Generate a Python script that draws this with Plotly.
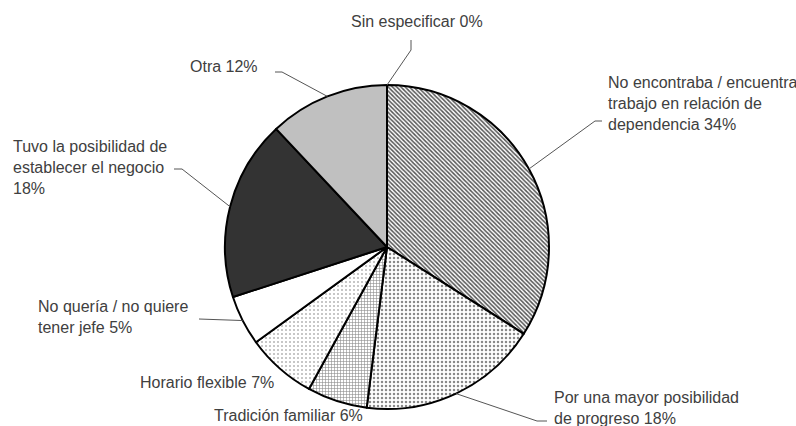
import math
import plotly.graph_objects as go

# Motivos para iniciar el negocio (porcentaje de respuestas)
labels = [
    "No encontraba / encuentra<br>trabajo en relación de<br>dependencia",
    "Por una mayor posibilidad<br>de progreso",
    "Tradición familiar",
    "Horario flexible",
    "No quería / no quiere<br>tener jefe",
    "Tuvo la posibilidad de<br>establecer el negocio<br>",
    "Otra",
    "Sin especificar",
]
values = [34, 18, 6, 7, 5, 18, 12, 0]

# Fill style per slice
fill_colors = ["#ffffff", "#ffffff", "#ffffff", "#ffffff", "#ffffff", "#333333", "#c0c0c0", "#ffffff"]
pattern_shapes = ["\\", ".", "+", ".", "", "", "", ""]
pattern_fg = ["#555555", "#8a8a8a", "#8a8a8a", "#b5b5b5", "#000000", "#000000", "#000000", "#000000"]
pattern_bg = ["#ffffff", "#ffffff", "#ffffff", "#ffffff", "#ffffff", "#333333", "#c0c0c0", "#ffffff"]
pattern_size = [3, 4, 3, 4, 4, 4, 4, 4]
pattern_solidity = [0.5, 0.3, 0.35, 0.2, 0.3, 0.3, 0.3, 0.3]

W, H = 796, 426
CX, CY, R = 387, 247, 162  # pie centre and radius in pixels

# Label placement: (text anchor x, y, xanchor, yanchor, leader-line waypoints after the rim point)
label_layout = [
    (606, 103, "left", "middle", [(595, 121), (602, 121)]),
    (552, 408, "left", "middle", [(537, 421), (547, 421)]),
    (288, 415, "center", "middle", None),
    (276, 382, "right", "middle", None),
    (36, 317, "left", "middle", [(199, 319)]),
    (11, 168, "left", "middle", [(182, 169), (174, 169)]),
    (260, 66, "right", "middle", [(282, 72), (275, 72)]),
    (417, 21, "center", "middle", [(411, 50), (411, 40)]),
]


def px(x):
    return x / W


def py(y):
    return 1 - y / H


fig = go.Figure(
    go.Pie(
        labels=labels,
        values=values,
        sort=False,
        direction="clockwise",
        rotation=0,
        textinfo="none",
        hoverinfo="label+percent",
        showlegend=False,
        domain=dict(x=[px(CX - R), px(CX + R)], y=[py(CY + R), py(CY - R)]),
        marker=dict(
            colors=fill_colors,
            line=dict(color="#000000", width=2),
            pattern=dict(
                shape=pattern_shapes,
                fgcolor=pattern_fg,
                bgcolor=pattern_bg,
                size=pattern_size,
                solidity=pattern_solidity,
                fillmode="replace",
            ),
        ),
    )
)

total = sum(values)
annotations = []
shapes = []
cum = 0
for lab, val, (tx, ty, xa, ya, pts) in zip(labels, values, label_layout):
    mid = (cum + val / 2) / total * 2 * math.pi
    cum += val
    rx = CX + R * math.sin(mid)
    ry = CY - R * math.cos(mid)
    pct = f"{round(val / total * 100)}%"
    text = lab + ("" if lab.endswith("<br>") else " ") + pct
    annotations.append(
        dict(
            x=px(tx), y=py(ty), xref="paper", yref="paper",
            text=text, showarrow=False, xanchor=xa, yanchor=ya, align="left",
            font=dict(family="Liberation Sans, Arial, sans-serif", size=16, color="#404040"),
        )
    )
    if pts:
        path = f"M {px(rx)} {py(ry)}" + "".join(f" L {px(x)} {py(y)}" for x, y in pts)
        shapes.append(
            dict(type="path", path=path, xref="paper", yref="paper",
                 line=dict(color="#555555", width=1))
        )

fig.update_layout(
    width=W, height=H, autosize=False,
    margin=dict(l=0, r=0, t=0, b=0),
    paper_bgcolor="#ffffff", plot_bgcolor="#ffffff",
    annotations=annotations, shapes=shapes,
)

fig.write_html("out.html")
